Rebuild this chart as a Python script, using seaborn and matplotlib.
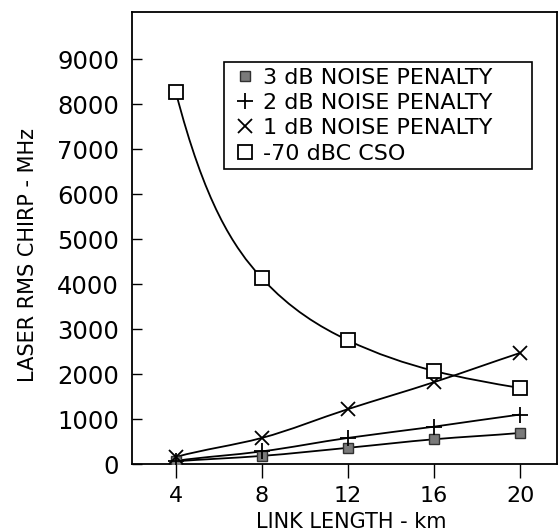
import numpy as np
import pandas as pd
import matplotlib
matplotlib.use("Agg")
import matplotlib.pyplot as plt
from matplotlib.path import Path
from matplotlib.patches import PathPatch
import seaborn as sns

# ---- data ----
link_km = [4, 8, 12, 16, 20]
pen_3db = [60, 180, 360, 550, 690]
pen_2db = [70, 280, 580, 830, 1100]
pen_1db = [155, 580, 1220, 1820, 2470]
cso_70 = [8270, 4130, 2750, 2070, 1690]
series_names = ["3 dB NOISE PENALTY", "2 dB NOISE PENALTY",
                "1 dB NOISE PENALTY", "-70 dBC CSO"]
y_ticks = [0, 1000, 2000, 3000, 4000, 5000, 6000, 7000, 8000, 9000]
x_ticks = [4, 8, 12, 16, 20]

sns.set_theme(style="white")
plt.rcParams["font.family"] = ["DejaVu Sans"]
plt.rcParams["text.color"] = "black"
plt.rcParams["axes.labelcolor"] = "black"
plt.rcParams["xtick.color"] = "black"
plt.rcParams["ytick.color"] = "black"

W, H = 559, 532
fig = plt.figure(figsize=(W / 100, H / 100), dpi=100)
ax = fig.add_axes([131.7 / W, 1 - 464 / H, (556.7 - 131.7) / W, (464 - 12) / H])

df = pd.DataFrame({"x": link_km * 4,
                   "y": pen_3db + pen_2db + pen_1db + cso_70,
                   "s": sum([[n] * len(link_km) for n in series_names], [])})


def smooth_path(xs, ys):
    """Smooth (Hermite/Bezier) curve through the data points only."""
    xs = np.asarray(xs, float)
    ys = np.asarray(ys, float)
    n = len(xs)
    h = np.diff(xs)
    dl = np.diff(ys) / h
    d = np.zeros(n)
    for i in range(1, n - 1):
        if dl[i - 1] * dl[i] > 0:
            d[i] = 2.0 / (1.0 / dl[i - 1] + 1.0 / dl[i])
    # end tangents: continuous curvature at the second / penultimate point
    d[0] = (h[0] * (6 * dl[1] - 4 * d[1] - 2 * d[2]) / h[1] + 6 * dl[0] - 4 * d[1]) / 2
    sl = (2 * d[n - 3] + 4 * d[n - 2] - 6 * dl[n - 3]) / h[n - 3]
    d[n - 1] = (6 * dl[n - 2] - 4 * d[n - 2] - h[n - 2] * sl) / 2
    verts = [(xs[0], ys[0])]
    codes = [Path.MOVETO]
    for i in range(n - 1):
        verts += [(xs[i] + h[i] / 3, ys[i] + d[i] * h[i] / 3),
                  (xs[i + 1] - h[i] / 3, ys[i + 1] - d[i + 1] * h[i] / 3),
                  (xs[i + 1], ys[i + 1])]
        codes += [Path.CURVE4] * 3
    return Path(verts, codes)


for ys in (pen_3db, pen_2db, pen_1db, cso_70):
    ax.add_patch(PathPatch(smooth_path(link_km, ys), fill=False,
                           edgecolor="black", lw=1.3, zorder=2))

styles = {
    series_names[0]: dict(marker="s", mfc="#7a7a7a", mec="#303030", ms=7, mew=1.0),
    series_names[1]: dict(marker="+", mfc="none", mec="black", ms=11, mew=1.3),
    series_names[2]: dict(marker="x", mfc="none", mec="black", ms=10, mew=1.3),
    series_names[3]: dict(marker="s", mfc="white", mec="black", ms=10, mew=1.3),
}
handles = []
for name in series_names:
    sub = df[df["s"] == name]
    st = styles[name]
    (h,) = ax.plot(sub["x"], sub["y"], linestyle="none", zorder=3, **st)
    handles.append(h)

ax.set_xlim(1.95, 21.7)
ax.set_ylim(0, 10050)
ax.set_xticks(x_ticks)
ax.set_yticks(y_ticks)
ax.set_xticklabels([str(v) for v in x_ticks], fontsize=16)
ax.set_yticklabels([str(v) for v in y_ticks], fontsize=17.5)
ax.tick_params(axis="y", direction="in", length=7, width=1.0, color="black",
               pad=9, left=True, labelcolor="black")
ax.tick_params(axis="x", direction="out", length=10, width=1.0, color="black",
               pad=6, bottom=True, labelcolor="black")
for sp in ax.spines.values():
    sp.set_color("black")
    sp.set_linewidth(1.3)

ax.set_xlabel("LINK LENGTH - km", fontsize=15, color="black")
ax.xaxis.set_label_coords(351 / W, 1 - 522 / H, transform=fig.transFigure)
ax.xaxis.label.set_va("center")
ax.set_ylabel("LASER RMS CHIRP - MHz", fontsize=15, color="black")
ax.yaxis.set_label_coords(38.5 / W, 1 - 255 / H, transform=fig.transFigure)

leg = ax.legend(handles, series_names, loc="upper left",
                bbox_to_anchor=(224 / W, 1 - 62 / H, (532 - 224) / W, 0.0),
                bbox_transform=fig.transFigure, mode="expand",
                borderaxespad=0, fontsize=16, frameon=True, fancybox=False,
                framealpha=1, edgecolor="black", handlelength=1.4,
                handletextpad=0.1, labelspacing=0.24, borderpad=0.25)
leg.get_frame().set_linewidth(1.2)
for t in leg.get_texts():
    t.set_color("black")

fig.savefig("out.png", dpi=100)
